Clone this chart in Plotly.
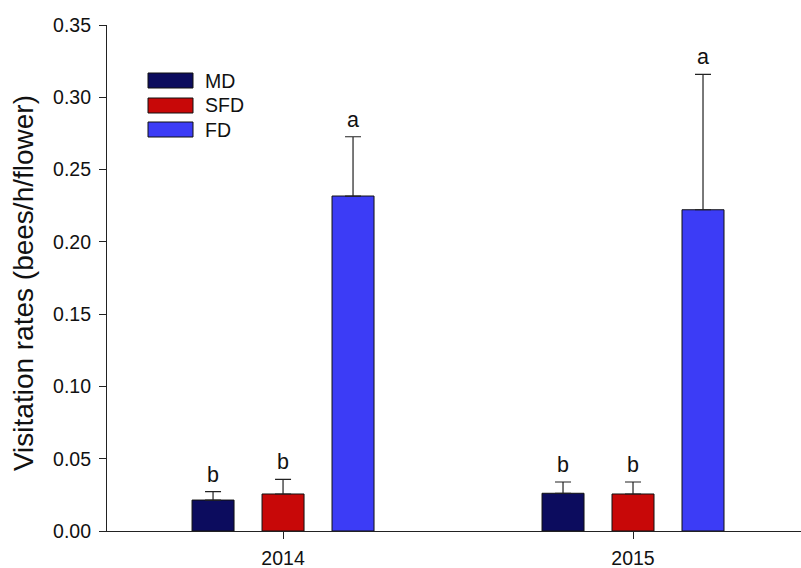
import plotly.graph_objects as go

# Visitation rates per treatment and year (mean, upper SE), with significance letters
years = ["2014", "2015"]
treatments = ["MD", "SFD", "FD"]
md_mean = [0.0214, 0.0261]
md_err = [0.0058, 0.0078]
sfd_mean = [0.0256, 0.0256]
sfd_err = [0.0101, 0.0083]
fd_mean = [0.2317, 0.2222]
fd_err = [0.0410, 0.0936]
md_letters = ["b", "b"]
sfd_letters = ["b", "b"]
fd_letters = ["a", "a"]

colors = {"MD": "#0c0c5e", "SFD": "#c80808", "FD": "#3c3cf6"}
font_family = "Arial, Liberation Sans, sans-serif"

series = [
    ("MD", md_mean, md_err, md_letters),
    ("SFD", sfd_mean, sfd_err, sfd_letters),
    ("FD", fd_mean, fd_err, fd_letters),
]

xpos = list(range(len(years)))
fig = go.Figure()
for name, mean, err, _ in series:
    fig.add_trace(go.Bar(
        name=name,
        x=xpos,
        y=mean,
        marker=dict(color=colors[name], line=dict(color="#111111", width=1)),
        error_y=dict(type="data", array=err, arrayminus=[0] * len(err),
                     symmetric=False, color="#222222", thickness=1.2, width=8),
        showlegend=False,
    ))

# significance letters above each error bar
offsets = [-0.2, 0.0, 0.2]
annotations = []
for off, (name, mean, err, letters) in zip(offsets, series):
    for i, (m, e, lt) in enumerate(zip(mean, err, letters)):
        annotations.append(dict(
            x=i + off, y=m + e, xref="x", yref="y", text=lt, showarrow=False,
            yanchor="middle", yshift=17,
            font=dict(family=font_family, size=21.5, color="#111111"),
        ))

# y axis title
annotations.append(dict(
    x=-0.121, y=0.49, xref="paper", yref="paper",
    text="Visitation rates (bees/h/flower)", textangle=-90, showarrow=False,
    xanchor="center", yanchor="middle",
    font=dict(family=font_family, size=28, color="#111111"),
))

# legend: coloured boxes with labels
shapes = []
leg_x0, leg_x1 = 148, 193
leg_rows = [80.5, 105.5, 129.5]
plot_left, plot_w, plot_bottom, plot_h = 107, 694, 531, 506
for name, cy in zip(treatments, leg_rows):
    y0 = (plot_bottom - (cy + 7.5)) / plot_h
    y1 = (plot_bottom - (cy - 7.5)) / plot_h
    shapes.append(dict(
        type="rect", xref="paper", yref="paper",
        x0=(leg_x0 - plot_left) / plot_w, x1=(leg_x1 - plot_left) / plot_w,
        y0=y0, y1=y1, fillcolor=colors[name], line=dict(color="#111111", width=1),
    ))
    annotations.append(dict(
        x=(203 - plot_left) / plot_w, y=(plot_bottom - cy) / plot_h,
        xref="paper", yref="paper", text=name, showarrow=False,
        xanchor="left", yanchor="middle",
        font=dict(family=font_family, size=19.5, color="#111111"),
    ))

fig.update_layout(
    width=801, height=568,
    margin=dict(l=107, r=0, t=25, b=37),
    paper_bgcolor="white", plot_bgcolor="white",
    barmode="group", bargap=0.4, bargroupgap=0.4,
    annotations=annotations, shapes=shapes,
    font=dict(family=font_family, color="#111111"),
)
fig.update_xaxes(
    range=[-0.503, 1.48], tickvals=xpos, ticktext=years,
    showline=True, linecolor="#222222", linewidth=1.2,
    ticks="outside", ticklen=7, tickcolor="#222222", tickwidth=1.2,
    ticklabelstandoff=2,
    showgrid=False, zeroline=False,
    tickfont=dict(family=font_family, size=19.5, color="#111111"),
)
fig.update_yaxes(
    range=[0, 0.35], dtick=0.05, tickformat=".2f",
    showline=True, linecolor="#222222", linewidth=1.2,
    ticks="outside", ticklen=7, tickcolor="#222222", tickwidth=1.2,
    ticklabelstandoff=4,
    showgrid=False, zeroline=False,
    tickfont=dict(family=font_family, size=19.5, color="#111111"),
)

fig.write_html("out.html")
